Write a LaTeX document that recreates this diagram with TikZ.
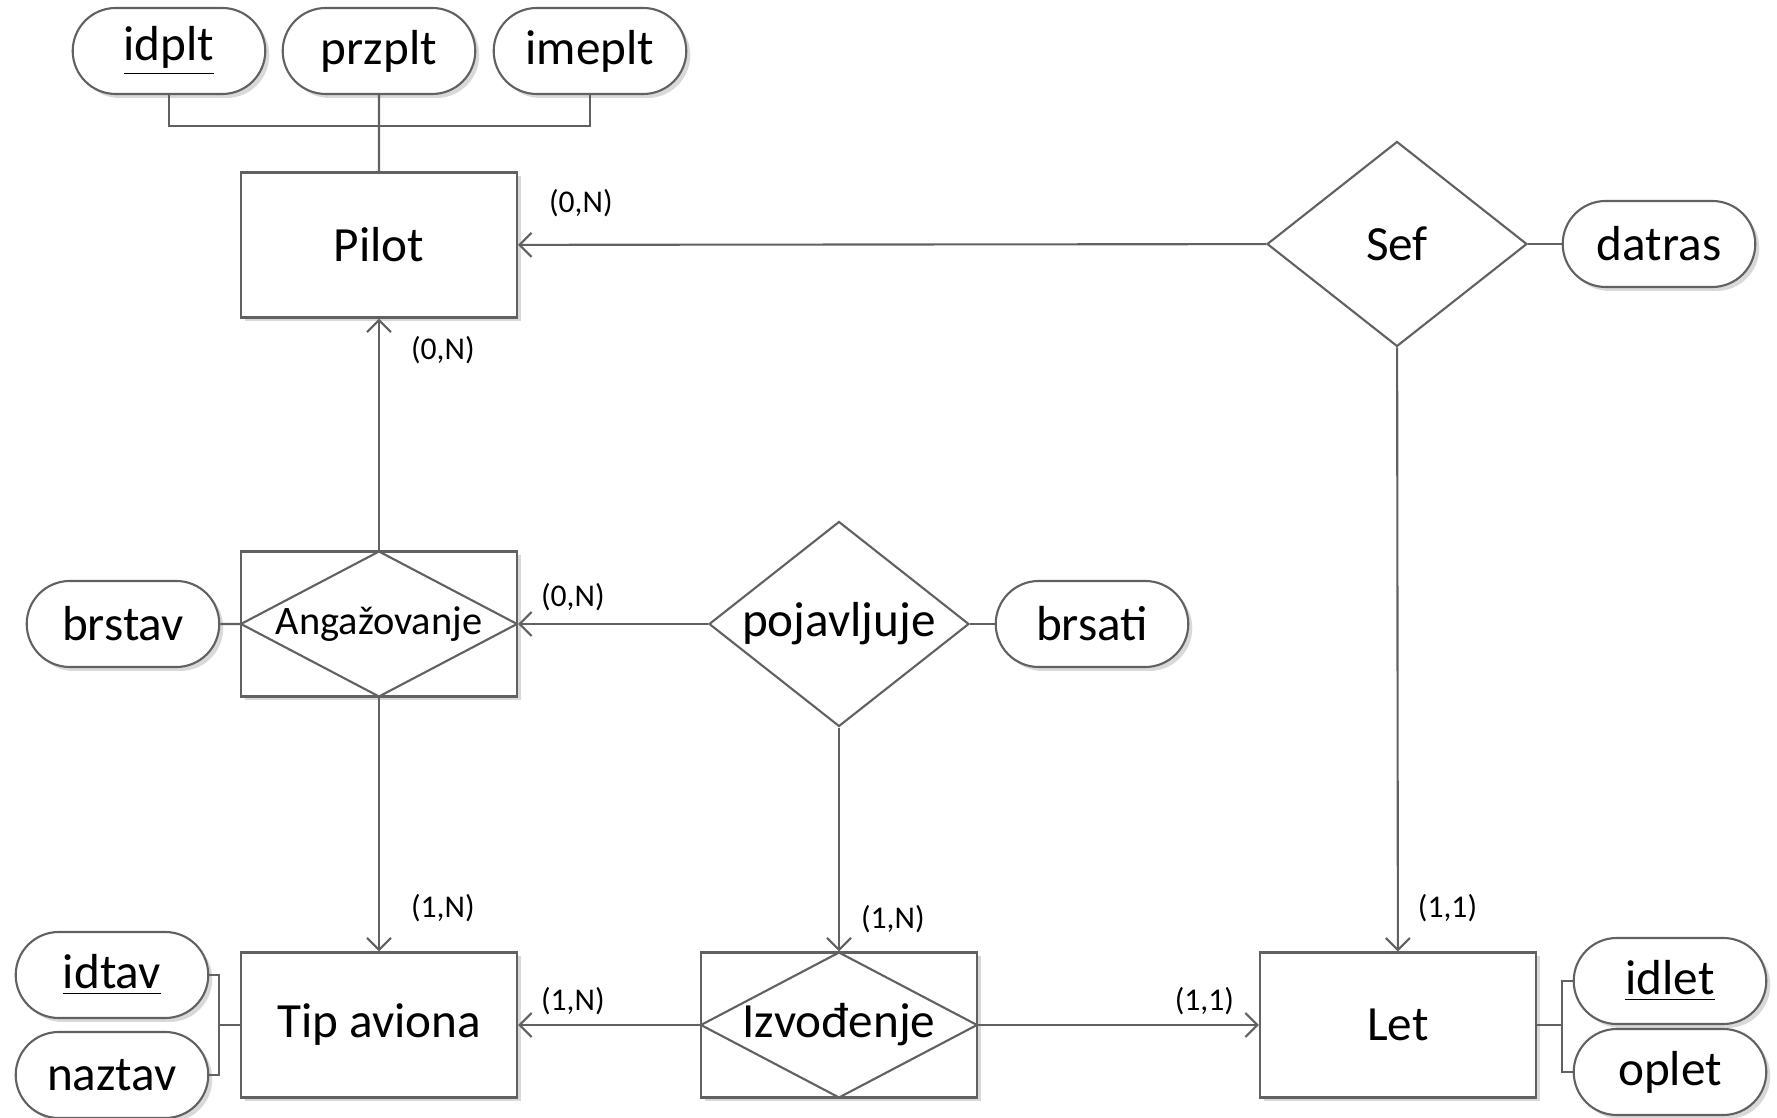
\documentclass[tikz,border=0pt]{standalone}
\usepackage{fontspec}
\setmainfont{Carlito}
\usepackage{tikz}
\usetikzlibrary{shapes.geometric,shapes.misc,arrows.meta,shadows}
\usepackage{xcolor}
\definecolor{lgray}{gray}{0.38}

\begin{document}
\begin{tikzpicture}[
    every node/.style={font=\fontsize{14}{16}\selectfont},
    shade/.style={drop shadow={shadow xshift=0.4mm, shadow yshift=-0.4mm, opacity=0.3, fill=black!50}},
    ent/.style={draw=lgray, line width=0.6pt, fill=white, minimum width=2.76cm, minimum height=1.45cm, shade},
    weakrel/.style={ent, path picture={\draw[lgray, line width=0.6pt]
        (path picture bounding box.west) -- (path picture bounding box.north)
        -- (path picture bounding box.east) -- (path picture bounding box.south) -- cycle;}},
    rel/.style={diamond, draw=lgray, line width=0.6pt, fill=white, inner sep=0pt, aspect=1.27,
        minimum width=2.6cm, minimum height=2.05cm},
    attr/.style={rounded rectangle, draw=lgray, line width=0.6pt, fill=white,
        minimum width=2.16cm, minimum height=0.86cm, shade},
    card/.style={font=\fontsize{9}{10}\selectfont, text=black, inner sep=0pt},
    conn/.style={lgray, line width=0.6pt},
    arr/.style={conn, -{Straight Barb[length=1.2mm, width=2.4mm]}}
  ]
    \useasboundingbox (0,0) rectangle (17.77,-11.18);

    % entities
    \node[ent] (pilot) at (3.79,-2.45) {Pilot};
    \node[ent] (tip) at (3.79,-10.25) {Tip aviona};
    \node[ent] (let) at (13.98,-10.25) {Let};
    \node[weakrel, font=\fontsize{11.5}{13}\selectfont] (angaz) at (3.79,-6.24) {Angažovanje};
    \node[weakrel] (izvod) at (8.39,-10.25) {Izvođenje};

    % relationships
    \node[rel] (sef) at (13.97,-2.44) {Sef};
    \node[rel] (pojav) at (8.39,-6.24) {pojavljuje};

    % attributes
    \node[attr] (idplt) at (1.69,-0.51) {\underline{idplt}};
    \node[attr] (przplt) at (3.79,-0.51) {przplt};
    \node[attr] (imeplt) at (5.90,-0.51) {imeplt};
    \node[attr] (datras) at (16.59,-2.44) {datras};
    \node[attr] (brstav) at (1.23,-6.24) {brstav};
    \node[attr] (brsati) at (10.92,-6.24) {brsati};
    \node[attr] (idtav) at (1.12,-9.75) {\underline{idtav}};
    \node[attr] (naztav) at (1.12,-10.75) {naztav};
    \node[attr] (idlet) at (16.70,-9.81) {\underline{idlet}};
    \node[attr] (oplet) at (16.70,-10.72) {oplet};

    \coordinate (pbr) at (3.79,-1.26);
    \coordinate (tbr) at (2.19,-10.25);
    \coordinate (lbr) at (15.62,-10.25);

    % attribute lines
    \draw[conn] (idplt.south) |- (pbr) -| (imeplt.south);
    \draw[conn] (przplt) -- (pilot);
    \draw[conn] (idtav.east) -| (tbr) |- (naztav.east);
    \draw[conn] (tbr) -- (tip);
    \draw[conn] (idlet.west) -| (lbr) |- (oplet.west);
    \draw[conn] (lbr) -- (let);
    \draw[conn] (brstav) -- (angaz);
    \draw[conn] (pojav) -- (brsati);
    \draw[conn] (sef) -- (datras);

    % relationship lines
    \draw[arr] (sef) -- (pilot) node[card, at end, anchor=south west, xshift=3mm, yshift=2.7mm] (c1) {(0,N)};
    \draw[arr] (angaz) -- (pilot) node[card, at end, anchor=west, xshift=3.1mm, yshift=-3.2mm] (c2) {(0,N)};
    \draw[arr] (angaz) -- (tip) node[card, at end, anchor=west, xshift=3.1mm, yshift=4.3mm] (c3) {(1,N)};
    \draw[arr] (pojav) -- (angaz) node[card, at end, anchor=west, xshift=2.2mm, yshift=2.7mm] (c4) {(0,N)};
    \draw[arr] (pojav) -- (izvod) node[card, at end, anchor=west, xshift=2.1mm, yshift=3.2mm] (c5) {(1,N)};
    \draw[arr] (izvod) -- (tip) node[card, at end, anchor=west, xshift=2.2mm, yshift=2.4mm] (c6) {(1,N)};
    \draw[arr] (izvod) -- (let) node[card, at end, anchor=east, xshift=-2.4mm, yshift=2.4mm] (c7) {(1,1)};
    \draw[arr] (sef) -- (let) node[card, at end, anchor=west, xshift=1.9mm, yshift=4.3mm] (c8) {(1,1)};
  \end{tikzpicture}
\end{document}
